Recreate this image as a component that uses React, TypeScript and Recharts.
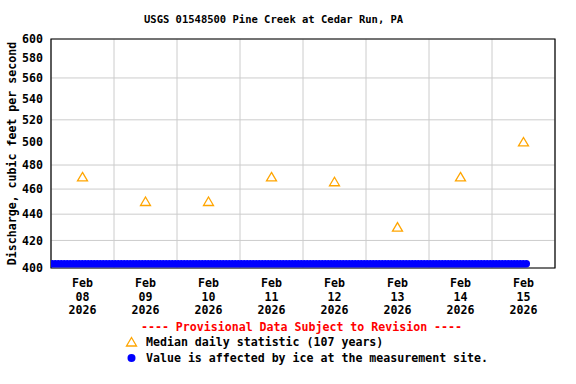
import React from 'react';
import {
  ComposedChart,
  Line,
  Scatter,
  XAxis,
  YAxis,
  CartesianGrid,
  ReferenceArea,
} from 'recharts';

// time axis is in days since Feb 08 2026 00:00
const dayLabels = ['08', '09', '10', '11', '12', '13', '14', '15'];
const dayCenters = [0.5, 1.5, 2.5, 3.5, 4.5, 5.5, 6.5, 7.5];
const dayBounds = [0, 1, 2, 3, 4, 5, 6, 7, 8];
const yTicks = [400, 420, 440, 460, 480, 500, 520, 540, 560, 580, 600];

// median daily statistic (107 years)
const medianValues = [470, 450, 450, 470, 466, 430, 470, 500];

// ice-affected record: Feb 08 00:00 through Feb 15 ~14:00
const iceTimes = [0.02, 7.57];
const iceValues = [403, 403];

const medianData = dayCenters.map((t, i) => ({ t, v: medianValues[i] }));
const iceData = iceTimes.map((t, i) => ({ t, v: iceValues[i] }));

const FONT = '"DejaVu Sans Mono", "Liberation Mono", monospace';

const Triangle = (props: any) => {
  const { cx, cy } = props;
  if (cx == null || cy == null) return null;
  return (
    <path
      d={`M${cx},${cy - 4.5} L${cx + 5},${cy + 4} L${cx - 5},${cy + 4} Z`}
      fill="none"
      stroke="#FFA500"
      strokeWidth={1.3}
    />
  );
};

const DayTick = (props: any) => {
  const { x, y, payload } = props;
  const i = dayCenters.indexOf(payload.value);
  return (
    <text x={x} y={y} textAnchor="middle" fontFamily={FONT} fontWeight="bold" fontSize={11.6} fill="#000">
      <tspan x={x} dy={15}>Feb</tspan>
      <tspan x={x} dy={13.5}>{dayLabels[i]}</tspan>
      <tspan x={x} dy={13.5}>2026</tspan>
    </text>
  );
};

export default function App() {
  return (
    <div style={{ position: 'absolute', left: 0, top: 0, width: 576, height: 384, background: '#fff', fontFamily: FONT }}>
      <div style={{ position: 'absolute', left: 144, top: 13, fontSize: 10.5, fontWeight: 'bold', whiteSpace: 'nowrap' }}>
        USGS 01548500 Pine Creek at Cedar Run, PA
      </div>
      <ComposedChart width={576} height={384} margin={{ top: 39, right: 21, bottom: 0, left: 6 }}>
        <CartesianGrid
          stroke="#cccccc"
          strokeWidth={1}
          verticalCoordinatesGenerator={({ xAxis, offset }: any) =>
            dayBounds.map((d) =>
              xAxis && typeof xAxis.scale === 'function'
                ? xAxis.scale(d)
                : offset.left + (offset.width * d) / 8
            )
          }
        />
        <XAxis
          dataKey="t"
          type="number"
          domain={[0, 8]}
          ticks={dayCenters}
          height={116}
          tickLine={false}
          axisLine={false}
          tickSize={0}
          tickMargin={4}
          tick={<DayTick />}
          allowDataOverflow
        />
        <YAxis
          type="number"
          scale="log"
          domain={[400, 600]}
          ticks={yTicks}
          width={45}
          tickLine={false}
          axisLine={false}
          tickSize={0}
          tickMargin={8}
          allowDataOverflow
          tick={{ fontFamily: FONT, fontWeight: 'bold', fontSize: 11.6, fill: '#000' }}
          label={{
            value: 'Discharge, cubic feet per second',
            angle: -90,
            position: 'insideLeft',
            offset: 6,
            style: { fontFamily: FONT, fontWeight: 'bold', fontSize: 11.6, fill: '#000', textAnchor: 'middle' },
          }}
        />
        <Line
          data={iceData}
          dataKey="v"
          stroke="#0000ff"
          strokeWidth={7.5}
          strokeLinecap="round"
          strokeDasharray="0 3"
          dot={false}
          activeDot={false}
          isAnimationActive={false}
        />
        <Scatter data={medianData} dataKey="v" shape={<Triangle />} isAnimationActive={false} />
        <ReferenceArea x1={0} x2={8} y1={400} y2={600} fill="none" stroke="#000" strokeWidth={1.2} ifOverflow="visible" />
      </ComposedChart>
      <div style={{ position: 'absolute', left: 0, width: 603, top: 320, textAlign: 'center', color: '#ff0000', fontSize: 11.6, fontWeight: 'bold', whiteSpace: 'pre' }}>
        ---- Provisional Data Subject to Revision ----
      </div>
      <div style={{ position: 'absolute', left: 125, top: 335, fontSize: 11.6, fontWeight: 'bold', whiteSpace: 'pre', display: 'flex', alignItems: 'center' }}>
        <svg width={14} height={12} style={{ marginRight: 7 }}>
          <path d="M6.5,1.5 L11.5,10 L1.5,10 Z" fill="none" stroke="#FFA500" strokeWidth={1.3} />
        </svg>
        Median daily statistic (107 years)
      </div>
      <div style={{ position: 'absolute', left: 125, top: 351, fontSize: 11.6, fontWeight: 'bold', whiteSpace: 'pre', display: 'flex', alignItems: 'center' }}>
        <svg width={14} height={12} style={{ marginRight: 7 }}>
          <circle cx={6.5} cy={6} r={4} fill="#0000ff" />
        </svg>
        Value is affected by ice at the measurement site.
      </div>
    </div>
  );
}
